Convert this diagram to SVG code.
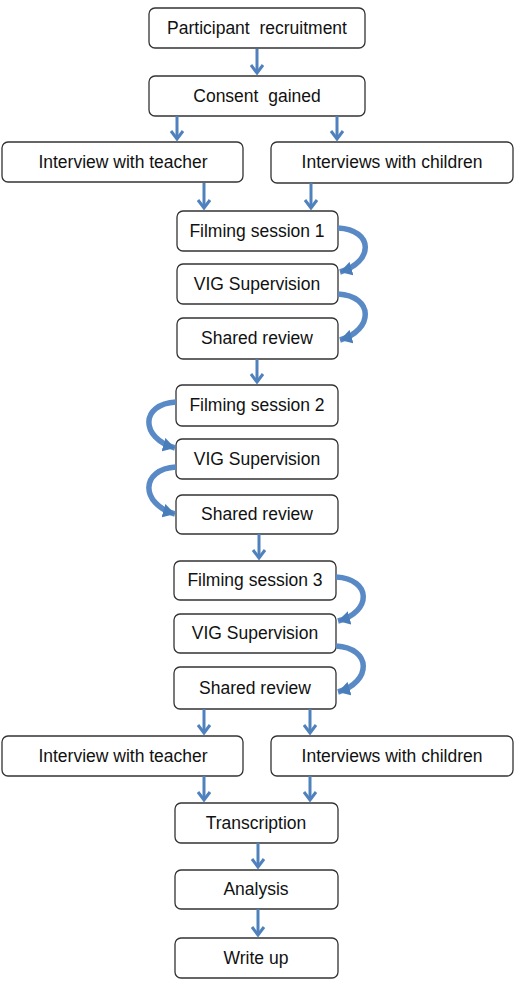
<svg xmlns="http://www.w3.org/2000/svg" width="518" height="992" viewBox="0 0 518 992">
<style>
.box{fill:#fff;stroke:#333;stroke-width:1.3}
.t{font-family:"Liberation Sans",Arial,sans-serif;font-size:17.5px;fill:#111;text-anchor:middle;white-space:pre}
.s{stroke:#4f81bd;stroke-width:3;fill:none}
.h{stroke:#4f81bd;stroke-width:3;fill:none;stroke-linejoin:miter}
.c{stroke:#5a8ac6;stroke-width:5.5;fill:none;marker-end:url(#ch)}
</style>
<defs>
<marker id="ch" markerUnits="userSpaceOnUse" markerWidth="14" markerHeight="14" refX="12" refY="7" orient="auto">
<path d="M0,0 L12,7 L0,14 Z" fill="#4a7ebb"/>
</marker>
</defs>
<g id="n1"><rect class="box" x="149" y="8" width="216" height="40" rx="6"/><text class="t" x="257" y="34" xml:space="preserve">Participant  recruitment</text></g>
<g id="n2"><rect class="box" x="149" y="76" width="216" height="40" rx="6"/><text class="t" x="257" y="102" xml:space="preserve">Consent  gained</text></g>
<g id="n3"><rect class="box" x="2" y="142" width="241" height="40" rx="6"/><text class="t" x="123" y="168">Interview with teacher</text></g>
<g id="n4"><rect class="box" x="271" y="142" width="242" height="41" rx="6"/><text class="t" x="392" y="168">Interviews with children</text></g>
<g id="n5"><rect class="box" x="177" y="211" width="161" height="40" rx="6"/><text class="t" x="257" y="237">Filming session 1</text></g>
<g id="n6"><rect class="box" x="177" y="264" width="161" height="40" rx="6"/><text class="t" x="257" y="290">VIG Supervision</text></g>
<g id="n7"><rect class="box" x="177" y="318" width="161" height="41" rx="6"/><text class="t" x="257" y="344">Shared review</text></g>
<g id="n8"><rect class="box" x="176" y="385" width="162" height="41" rx="6"/><text class="t" x="257" y="411">Filming session 2</text></g>
<g id="n9"><rect class="box" x="176" y="439" width="162" height="40" rx="6"/><text class="t" x="257" y="465">VIG Supervision</text></g>
<g id="n10"><rect class="box" x="176" y="495" width="162" height="39" rx="6"/><text class="t" x="257" y="520">Shared review</text></g>
<g id="n11"><rect class="box" x="174" y="561" width="162" height="39" rx="6"/><text class="t" x="255" y="586">Filming session 3</text></g>
<g id="n12"><rect class="box" x="174" y="614" width="162" height="39" rx="6"/><text class="t" x="255" y="639">VIG Supervision</text></g>
<g id="n13"><rect class="box" x="174" y="667" width="162" height="42" rx="6"/><text class="t" x="255" y="694">Shared review</text></g>
<g id="n14"><rect class="box" x="2" y="736" width="241" height="40" rx="6"/><text class="t" x="123" y="762">Interview with teacher</text></g>
<g id="n15"><rect class="box" x="271" y="736" width="242" height="40" rx="6"/><text class="t" x="392" y="762">Interviews with children</text></g>
<g id="n16"><rect class="box" x="175" y="803" width="163" height="40" rx="6"/><text class="t" x="256" y="829">Transcription</text></g>
<g id="n17"><rect class="box" x="175" y="870" width="163" height="39" rx="6"/><text class="t" x="256" y="895">Analysis</text></g>
<g id="n18"><rect class="box" x="175" y="938" width="163" height="40" rx="6"/><text class="t" x="256" y="964">Write up</text></g>
<g id="connectors">
<path class="s" d="M257 49V73M177 116V139M337 116V139M204 183V208M311 183V208M257 359V382M259 534V558M204 709V733M310 709V733M204 776V800M310 776V800M258 843V867M258 909V935"/>
<path class="h" d="M251 65L257 73L263 65M171 131L177 139L183 131M331 131L337 139L343 131M198 200L204 208L210 200M305 200L311 208L317 200M251 374L257 382L263 374M253 550L259 558L265 550M198 725L204 733L210 725M304 725L310 733L316 725M198 792L204 800L210 792M304 792L310 800L316 792M252 859L258 867L264 859M252 927L258 935L264 927"/>
<path class="c" d="M338 228C374 230 374 262 340 272"/>
<path class="c" d="M338 294C374 296 374 330 340 340"/>
<path class="c" d="M176 402C140 404 140 438 175 448"/>
<path class="c" d="M176 467C140 469 140 504 175 514"/>
<path class="c" d="M336 577C372 579 372 612 338 621"/>
<path class="c" d="M336 646C372 648 372 682 338 692"/>
</g>
</svg>
